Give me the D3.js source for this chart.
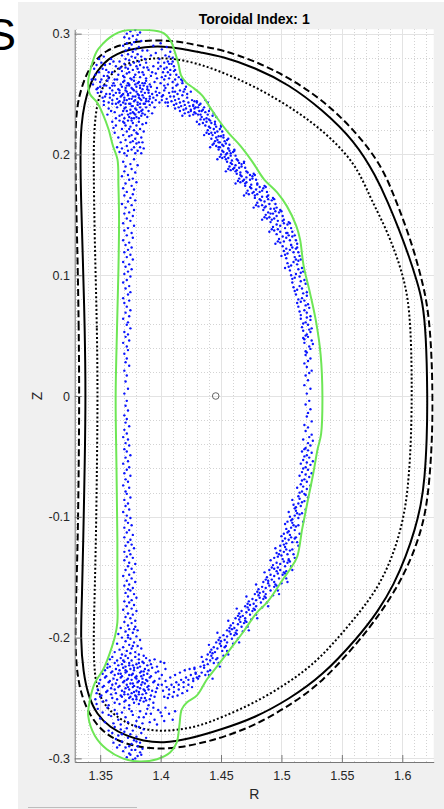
<!DOCTYPE html>
<html>
<head>
<meta charset="utf-8">
<script src="https://cdn.jsdelivr.net/npm/d3@7"></script>
<style>
  html, body { margin: 0; padding: 0; background: #ffffff; }
  svg { display: block; font-family: "Liberation Sans", Arial, Helvetica, sans-serif; }
</style>
</head>
<body>
<svg id="chart" width="444" height="809"></svg>
<script>
// ---------- tick labels ----------
const xTicks = [1.35, 1.4, 1.45, 1.5, 1.55, 1.6];
const yTicks = [-0.3, -0.2, -0.1, 0, 0.1, 0.2, 0.3];

// ---------- boundary curves [R, Z] ----------
// outer boundary (dashed)
const outerBoundary = [
  [1.3327,0.0000],[1.3323,0.0552],[1.3312,0.1190],[1.3300,0.1628],[1.3293,0.2017],[1.3296,0.2249],
  [1.3312,0.2415],[1.3341,0.2539],[1.3391,0.2680],[1.3465,0.2787],[1.3548,0.2858],[1.3664,0.2907],
  [1.3829,0.2940],[1.3995,0.2947],[1.4161,0.2934],[1.4326,0.2899],[1.4508,0.2866],[1.4784,0.2773],
  [1.5060,0.2636],[1.5336,0.2456],[1.5612,0.2194],[1.5833,0.1904],[1.5943,0.1628],[1.6023,0.1421],
  [1.6098,0.1198],[1.6156,0.0983],[1.6205,0.0776],[1.6238,0.0469],[1.6253,0.0000],[1.6247,-0.0358],
  [1.6226,-0.0690],[1.6197,-0.0938],[1.6147,-0.1145],[1.6065,-0.1368],[1.5949,-0.1600],[1.5800,-0.1824],
  [1.5640,-0.2031],[1.5336,-0.2373],[1.5060,-0.2566],[1.4784,-0.2726],[1.4508,-0.2828],[1.4353,-0.2869],
  [1.4161,-0.2911],[1.3968,-0.2925],[1.3774,-0.2897],[1.3608,-0.2842],[1.3471,-0.2732],[1.3374,-0.2566],
  [1.3319,-0.2373],[1.3300,-0.2180],[1.3293,-0.2014],[1.3300,-0.1683],[1.3315,-0.1186],[1.3323,-0.0524]
];
// boundary (solid)
const boundary = [
  [1.3380,0.0000],[1.3373,0.0552],[1.3355,0.1190],[1.3341,0.1628],[1.3335,0.2017],[1.3343,0.2249],
  [1.3370,0.2423],[1.3407,0.2555],[1.3453,0.2655],[1.3507,0.2729],[1.3565,0.2787],[1.3639,0.2833],
  [1.3730,0.2866],[1.3871,0.2891],[1.4020,0.2897],[1.4185,0.2874],[1.4326,0.2845],[1.4508,0.2812],
  [1.4781,0.2719],[1.5060,0.2580],[1.5336,0.2373],[1.5609,0.2108],[1.5783,0.1819],[1.5882,0.1603],
  [1.5973,0.1380],[1.6056,0.1156],[1.6122,0.0950],[1.6168,0.0784],[1.6197,0.0511],[1.6209,0.0000],
  [1.6204,-0.0358],[1.6185,-0.0690],[1.6156,-0.0897],[1.6106,-0.1103],[1.6031,-0.1327],[1.5932,-0.1559],
  [1.5800,-0.1782],[1.5634,-0.1998],[1.5336,-0.2320],[1.5060,-0.2511],[1.4784,-0.2662],[1.4508,-0.2759],
  [1.4227,-0.2842],[1.4020,-0.2875],[1.3854,-0.2856],[1.3719,-0.2815],[1.3581,-0.2745],[1.3471,-0.2635],
  [1.3401,-0.2483],[1.3360,-0.2290],[1.3337,-0.2014],[1.3349,-0.1683],[1.3360,-0.1186],[1.3373,-0.0524]
];
// inner boundary (dotted)
const innerBoundary = [
  [1.3479,0.0000],[1.3474,0.0552],[1.3457,0.1190],[1.3449,0.1628],[1.3445,0.2017],[1.3453,0.2249],
  [1.3474,0.2415],[1.3511,0.2539],[1.3565,0.2638],[1.3647,0.2717],[1.3747,0.2762],[1.3912,0.2796],
  [1.4045,0.2798],[1.4202,0.2779],[1.4368,0.2732],[1.4508,0.2682],[1.4784,0.2561],[1.5060,0.2401],
  [1.5336,0.2208],[1.5612,0.1932],[1.5733,0.1645],[1.5849,0.1421],[1.5940,0.1198],[1.6007,0.0991],
  [1.6048,0.0801],[1.6069,0.0552],[1.6077,0.0262],[1.6079,0.0000],[1.6073,-0.0358],[1.6056,-0.0648],
  [1.6031,-0.0897],[1.5982,-0.1128],[1.5907,-0.1360],[1.5791,-0.1600],[1.5634,-0.1807],[1.5460,-0.2014],
  [1.5281,-0.2207],[1.5060,-0.2373],[1.4784,-0.2538],[1.4508,-0.2660],[1.4326,-0.2730],[1.4161,-0.2763],
  [1.3995,-0.2776],[1.3830,-0.2755],[1.3689,-0.2693],[1.3581,-0.2610],[1.3507,-0.2511],[1.3465,-0.2387],
  [1.3449,-0.2221],[1.3445,-0.2014],[1.3453,-0.1683],[1.3465,-0.1186],[1.3474,-0.0524]
];
// particle envelope (green)
const envelope = [
  [1.3648,0.3008],[1.3730,0.3030],[1.3829,0.3033],[1.3945,0.3026],[1.4028,0.3003],[1.4086,0.2936],
  [1.4119,0.2845],[1.4148,0.2746],[1.4169,0.2655],[1.4210,0.2597],[1.4276,0.2547],[1.4343,0.2489],
  [1.4409,0.2390],[1.4475,0.2291],[1.4558,0.2183],[1.4657,0.2075],[1.4757,0.1943],[1.4856,0.1794],
  [1.4964,0.1686],[1.5046,0.1570],[1.5121,0.1413],[1.5154,0.1297],[1.5183,0.1082],[1.5237,0.0850],
  [1.5286,0.0618],[1.5324,0.0345],[1.5339,0.0000],[1.5328,-0.0315],[1.5299,-0.0441],[1.5262,-0.0648],
  [1.5212,-0.0896],[1.5171,-0.1104],[1.5129,-0.1335],[1.5071,-0.1434],[1.5013,-0.1517],[1.4881,-0.1709],
  [1.4798,-0.1791],[1.4682,-0.1956],[1.4575,-0.2097],[1.4467,-0.2238],[1.4384,-0.2345],[1.4301,-0.2478],
  [1.4219,-0.2536],[1.4175,-0.2594],[1.4155,-0.2732],[1.4133,-0.2869],[1.4078,-0.2952],[1.3970,-0.3007],
  [1.3829,-0.3026],[1.3691,-0.3002],[1.3554,-0.2925],[1.3457,-0.2815],[1.3401,-0.2649],[1.3416,-0.2511],
  [1.3457,-0.2373],[1.3526,-0.2262],[1.3581,-0.2124],[1.3623,-0.1987],[1.3642,-0.1876],[1.3642,-0.1600],
  [1.3642,-0.1186],[1.3635,-0.0607],[1.3628,0.0000],[1.3639,0.0552],[1.3651,0.1049],[1.3656,0.1463],
  [1.3651,0.1738],[1.3643,0.1959],[1.3606,0.2070],[1.3569,0.2208],[1.3523,0.2332],[1.3474,0.2431],
  [1.3416,0.2498],[1.3401,0.2605],[1.3424,0.2721],[1.3471,0.2853],[1.3526,0.2920],[1.3581,0.2969]
];
// magnetic axis
const magAxis = [[1.4456, 0.0]];

// ---------- particle positions [R, Z] ----------
const upperCloud = [
  // plume above the upper X-point
  [1.375,0.302],[1.379,0.303],[1.372,0.300],[1.381,0.299],[1.377,0.298],[1.383,0.301],[1.374,0.296],[1.370,0.297],
  [1.380,0.295],[1.378,0.293],[1.372,0.292],[1.376,0.291],[1.384,0.294],[1.369,0.290],[1.382,0.289],[1.374,0.288],
  [1.379,0.287],[1.371,0.286],[1.385,0.286],[1.377,0.285],[1.373,0.283],[1.381,0.283],[1.368,0.282],[1.376,0.281],
  [1.384,0.281],[1.379,0.280],[1.371,0.279],[1.374,0.278],[1.382,0.277],[1.387,0.279],[1.366,0.277],[1.378,0.276],
  [1.370,0.275],[1.375,0.274],[1.383,0.274],[1.388,0.276],[1.380,0.273],[1.367,0.272],[1.373,0.271],[1.386,0.272],
  // upper spread
  [1.347,0.274],[1.351,0.276],[1.355,0.270],[1.358,0.275],[1.360,0.268],[1.363,0.273],[1.365,0.266],[1.368,0.269],
  [1.370,0.264],[1.372,0.267],[1.375,0.263],[1.377,0.270],[1.379,0.266],[1.381,0.271],[1.383,0.264],[1.385,0.268],
  [1.388,0.263],[1.390,0.270],[1.392,0.265],[1.394,0.273],[1.396,0.267],[1.398,0.276],[1.401,0.264],[1.403,0.271],
  [1.406,0.268],[1.349,0.268],[1.353,0.265],[1.357,0.263],[1.362,0.262],[1.366,0.271],[1.371,0.272],[1.374,0.268],
  [1.378,0.264],[1.382,0.268],[1.386,0.266],[1.389,0.272],[1.393,0.268],[1.397,0.263],[1.400,0.273],[1.404,0.265],
  [1.407,0.275],[1.346,0.262],[1.352,0.271],[1.361,0.277],[1.369,0.265],
  [1.344,0.258],[1.346,0.266],[1.348,0.251],[1.349,0.279],[1.351,0.262],[1.352,0.247],[1.354,0.274],[1.355,0.257],
  [1.357,0.268],[1.358,0.250],[1.345,0.271],[1.350,0.256],[1.353,0.281],[1.356,0.265],[1.359,0.279],[1.347,0.254],
  [1.360,0.257],[1.343,0.262],
  [1.396,0.284],[1.399,0.279],[1.401,0.287],[1.404,0.282],[1.406,0.277],[1.408,0.285],[1.410,0.280],[1.398,0.271],
  [1.403,0.276],[1.407,0.281],[1.392,0.282],[1.389,0.286],[1.394,0.290],[1.400,0.292],[1.405,0.289],
  // dense core
  [1.350,0.260],[1.356,0.261],[1.361,0.259],[1.364,0.262],[1.367,0.258],[1.370,0.261],[1.373,0.259],[1.376,0.262],
  [1.379,0.258],[1.382,0.260],[1.385,0.259],[1.388,0.261],[1.391,0.258],[1.395,0.260],[1.400,0.259],
  [1.348,0.255],[1.353,0.257],[1.358,0.255],[1.362,0.257],[1.365,0.254],[1.368,0.256],[1.371,0.255],[1.374,0.257],
  [1.377,0.254],[1.380,0.256],[1.383,0.255],[1.386,0.257],[1.389,0.254],[1.392,0.256],[1.397,0.255],[1.403,0.257],
  [1.351,0.252],[1.355,0.250],[1.360,0.253],[1.363,0.251],[1.366,0.253],[1.369,0.250],[1.372,0.252],[1.375,0.251],
  [1.378,0.253],[1.381,0.250],[1.384,0.252],[1.387,0.251],[1.390,0.253],[1.393,0.250],[1.396,0.252],[1.399,0.251],
  [1.354,0.248],[1.358,0.247],[1.361,0.249],[1.364,0.246],[1.367,0.248],[1.370,0.247],[1.373,0.249],[1.376,0.246],
  [1.379,0.248],[1.382,0.247],[1.385,0.249],[1.388,0.246],[1.391,0.248],[1.394,0.247],[1.397,0.249],[1.401,0.248],
  [1.353,0.244],[1.357,0.243],[1.360,0.245],[1.363,0.242],[1.366,0.244],[1.369,0.243],[1.372,0.245],[1.375,0.242],
  [1.378,0.244],[1.381,0.243],[1.384,0.245],[1.387,0.242],[1.390,0.244],[1.393,0.243],[1.396,0.245],[1.399,0.243],
  [1.369,0.260],[1.374,0.258],[1.378,0.261],[1.383,0.257],[1.387,0.259],[1.371,0.253],[1.376,0.255],[1.380,0.252],
  [1.385,0.254],[1.390,0.251],[1.368,0.249],[1.373,0.250],[1.377,0.248],[1.382,0.249],[1.386,0.247],[1.391,0.246],
  [1.370,0.245],[1.374,0.246],[1.379,0.245],[1.383,0.246],[1.388,0.244],[1.372,0.257],[1.381,0.259],[1.389,0.256],
  [1.366,0.251],
  // bridge towards the outboard leg
  [1.402,0.249],[1.405,0.246],[1.407,0.251],[1.409,0.244],[1.411,0.248],[1.413,0.242],[1.415,0.246],[1.417,0.240],
  [1.419,0.244],[1.421,0.238],[1.423,0.243],[1.425,0.236],[1.427,0.241],[1.429,0.234],[1.431,0.239],[1.433,0.233],
  [1.404,0.243],[1.406,0.240],[1.410,0.252],[1.412,0.238],[1.414,0.250],[1.416,0.236],[1.418,0.249],[1.420,0.234],
  [1.422,0.247],[1.424,0.232],[1.426,0.245],[1.428,0.238],[1.430,0.243],[1.432,0.236],[1.403,0.253],[1.408,0.248],
  [1.412,0.245],[1.416,0.243],[1.420,0.241],[1.424,0.240],[1.428,0.244],[1.401,0.245],[1.406,0.243],[1.411,0.241],
  [1.415,0.239],[1.419,0.237],[1.423,0.235],[1.427,0.233],[1.418,0.232],
  // above the bridge
  [1.403,0.262],[1.406,0.258],[1.408,0.266],[1.410,0.255],[1.412,0.262],[1.412,0.270],[1.416,0.253],[1.418,0.259],
  [1.413,0.266],[1.405,0.272],[1.409,0.275],[1.411,0.269],[1.413,0.257],[1.415,0.264],[1.411,0.273],[1.419,0.252],
  [1.421,0.256],[1.418,0.261],[1.425,0.252],[1.404,0.255],[1.407,0.263],[1.410,0.260],[1.412,0.252],[1.414,0.258],
  [1.417,0.262],[1.420,0.254],[1.422,0.250],[1.408,0.270],[1.402,0.268],[1.410,0.277],
  // lower core
  [1.353,0.241],[1.357,0.238],[1.360,0.242],[1.362,0.235],[1.364,0.239],[1.366,0.232],[1.367,0.241],[1.369,0.236],
  [1.370,0.230],[1.371,0.239],[1.373,0.233],[1.374,0.242],[1.375,0.237],[1.376,0.230],[1.377,0.240],[1.378,0.234],
  [1.379,0.238],[1.380,0.231],[1.381,0.241],[1.382,0.235],[1.383,0.239],[1.384,0.232],[1.385,0.237],[1.386,0.242],
  [1.387,0.233],[1.388,0.239],[1.390,0.236],[1.391,0.241],[1.393,0.234],[1.395,0.239],[1.356,0.233],[1.359,0.236],
  [1.363,0.230],[1.365,0.243],[1.368,0.233],[1.372,0.236],[1.374,0.231],[1.377,0.235],[1.380,0.237],[1.382,0.230],
  [1.385,0.234],[1.389,0.231],[1.371,0.242],[1.376,0.240],[1.379,0.233],[1.383,0.242],[1.375,0.234],[1.370,0.238],
  [1.378,0.230],[1.384,0.236],
  // funnel into the inboard leg
  [1.360,0.227],[1.363,0.224],[1.366,0.228],[1.368,0.221],[1.370,0.226],[1.372,0.219],[1.373,0.228],[1.375,0.223],
  [1.376,0.216],[1.377,0.226],[1.378,0.220],[1.379,0.213],[1.380,0.224],[1.381,0.217],[1.382,0.227],[1.383,0.221],
  [1.384,0.214],[1.385,0.225],[1.386,0.219],[1.388,0.226],[1.362,0.218],[1.365,0.214],[1.367,0.210],[1.369,0.216],
  [1.371,0.212],[1.372,0.207],[1.374,0.215],[1.375,0.210],[1.376,0.204],[1.377,0.211],[1.378,0.206],[1.379,0.201],
  [1.380,0.209],[1.381,0.203],[1.382,0.210],[1.383,0.206],[1.384,0.201],[1.364,0.206],[1.366,0.202],[1.368,0.205],
  [1.370,0.201],[1.373,0.203],[1.374,0.221],[1.371,0.224],[1.376,0.228],[1.380,0.218],[1.385,0.210],[1.386,0.205],
  [1.361,0.222],[1.369,0.227]
];

const innerLeg = [
  [1.372,0.199],[1.378,0.196],[1.369,0.194],[1.375,0.192],[1.381,0.191],[1.371,0.190],
  [1.376,0.188],[1.370,0.186],[1.379,0.185],[1.373,0.183],[1.368,0.182],[1.377,0.180],
  [1.374,0.179],[1.380,0.177],[1.371,0.176],[1.376,0.174],[1.369,0.172],[1.378,0.171],
  [1.372,0.169],[1.377,0.167],[1.370,0.166],[1.375,0.164],[1.379,0.162],[1.373,0.161],
  [1.368,0.159],[1.376,0.158],[1.371,0.156],[1.378,0.154],[1.374,0.152],[1.370,0.151],
  [1.377,0.149],[1.372,0.147],[1.375,0.145],[1.369,0.143],[1.378,0.141],
  [1.373,0.139],[1.370,0.137],[1.376,0.135],[1.372,0.133],[1.377,0.131],
  [1.369,0.129],[1.374,0.127],[1.371,0.125],[1.376,0.123],[1.373,0.121],
  [1.370,0.119],[1.375,0.117],[1.372,0.115],[1.377,0.113],[1.369,0.111],
  [1.374,0.109],[1.371,0.107],[1.376,0.105],[1.373,0.103],[1.370,0.101],
  [1.375,0.099],[1.372,0.096],[1.369,0.094],[1.374,0.091],
  [1.371,0.089],[1.375,0.086],[1.373,0.084],[1.369,0.081],
  [1.374,0.079],[1.370,0.077],[1.372,0.074],[1.375,0.071],
  [1.371,0.069],[1.374,0.066],[1.369,0.064],[1.373,0.061],
  [1.372,0.059],[1.375,0.056],[1.370,0.053],[1.373,0.051],
  [1.371,0.049],[1.374,0.046],[1.369,0.044],[1.372,0.041],
  [1.373,0.038],[1.370,0.035],[1.372,0.031],
  [1.371,0.028],[1.374,0.025],[1.370,0.021],
  [1.372,0.017],[1.371,0.012],[1.373,0.006],[1.370,0.002],
  [1.372,-0.004],[1.371,-0.008],
  [1.373,-0.012],[1.370,-0.016],[1.372,-0.019],
  [1.371,-0.022],[1.374,-0.025],[1.370,-0.028],
  [1.372,-0.031],[1.369,-0.034],[1.373,-0.036],[1.371,-0.039],
  [1.374,-0.041],[1.370,-0.044],[1.372,-0.046],[1.375,-0.049],
  [1.371,-0.051],[1.373,-0.054],[1.369,-0.056],[1.374,-0.059],
  [1.372,-0.061],[1.370,-0.064],[1.375,-0.066],[1.371,-0.069],
  [1.373,-0.071],[1.369,-0.074],[1.374,-0.076],[1.371,-0.079],
  [1.372,-0.081],[1.375,-0.084],[1.370,-0.086],[1.373,-0.089],
  [1.371,-0.091],[1.374,-0.094],[1.369,-0.096],[1.372,-0.099],
  [1.375,-0.101],[1.371,-0.103],[1.373,-0.105],[1.376,-0.107],[1.370,-0.109],
  [1.374,-0.111],[1.372,-0.113],[1.377,-0.115],[1.370,-0.117],[1.375,-0.119],
  [1.373,-0.121],[1.376,-0.123],[1.371,-0.124],[1.378,-0.126],[1.374,-0.128],[1.370,-0.129],
  [1.375,-0.131],[1.372,-0.133],[1.377,-0.134],[1.370,-0.136],[1.374,-0.138],[1.379,-0.139],
  [1.373,-0.141],[1.376,-0.143],[1.371,-0.144],[1.378,-0.146],[1.374,-0.148],[1.369,-0.149],
  [1.376,-0.151],[1.372,-0.153],[1.379,-0.154],[1.374,-0.156],[1.370,-0.157],[1.377,-0.159],[1.373,-0.160],
  [1.375,-0.161],[1.371,-0.163],[1.378,-0.164],[1.373,-0.166],[1.380,-0.167],[1.376,-0.169],[1.370,-0.170],
  [1.374,-0.171],[1.378,-0.173],[1.372,-0.174],[1.376,-0.176],[1.369,-0.177],[1.380,-0.178],[1.373,-0.180],
  [1.377,-0.181],[1.371,-0.183],[1.375,-0.184],[1.379,-0.186]
];

const outerLeg = [
  [1.427,0.240],[1.434,0.236],[1.439,0.243],[1.430,0.244],[1.436,0.239],[1.425,0.237],[1.441,0.238],
  [1.432,0.241],[1.428,0.235],[1.437,0.245],[1.433,0.242],[1.440,0.236],[1.429,0.239],[1.435,0.237],
  [1.431,0.233],[1.438,0.230],[1.444,0.234],[1.435,0.226],[1.441,0.228],[1.433,0.229],[1.446,0.231],
  [1.437,0.235],[1.430,0.227],[1.442,0.226],[1.439,0.233],[1.434,0.231],[1.445,0.227],[1.436,0.229],
  [1.443,0.232],[1.432,0.225],[1.440,0.229],[1.438,0.227],
  [1.437,0.224],[1.444,0.221],[1.450,0.223],[1.440,0.217],[1.447,0.219],[1.452,0.216],[1.439,0.220],
  [1.445,0.225],[1.442,0.218],[1.449,0.221],[1.436,0.216],[1.446,0.223],[1.451,0.219],[1.441,0.222],
  [1.448,0.215],[1.438,0.218],[1.443,0.216],[1.450,0.224],[1.445,0.218],[1.440,0.223],
  [1.442,0.213],[1.449,0.210],[1.455,0.212],[1.446,0.207],[1.452,0.214],[1.444,0.209],[1.457,0.208],
  [1.448,0.206],[1.453,0.211],[1.441,0.206],[1.450,0.215],[1.456,0.205],[1.445,0.211],[1.451,0.208],
  [1.447,0.212],[1.454,0.209],[1.443,0.208],[1.449,0.206],[1.456,0.213],[1.446,0.214],[1.452,0.207],
  [1.448,0.210],
  [1.448,0.204],[1.455,0.201],[1.461,0.203],[1.451,0.197],[1.458,0.199],[1.463,0.196],[1.450,0.200],
  [1.456,0.205],[1.453,0.198],[1.460,0.202],[1.447,0.196],[1.457,0.203],[1.462,0.199],[1.452,0.202],
  [1.459,0.195],[1.449,0.198],[1.454,0.196],[1.461,0.204],[1.456,0.197],[1.451,0.203],[1.458,0.201],
  [1.454,0.200],
  [1.455,0.194],[1.462,0.191],[1.469,0.193],[1.458,0.187],[1.465,0.189],[1.471,0.186],[1.457,0.190],
  [1.464,0.195],[1.460,0.188],[1.467,0.192],[1.454,0.186],[1.465,0.193],[1.470,0.189],[1.459,0.192],
  [1.466,0.185],[1.456,0.188],[1.462,0.186],[1.469,0.194],[1.463,0.187],[1.458,0.193],[1.467,0.190],
  [1.461,0.189],
  [1.463,0.184],[1.471,0.181],[1.478,0.183],[1.466,0.177],[1.474,0.179],[1.480,0.176],[1.465,0.180],
  [1.472,0.185],[1.468,0.178],[1.476,0.182],[1.462,0.176],[1.474,0.183],[1.479,0.179],[1.467,0.182],
  [1.475,0.175],[1.464,0.178],[1.470,0.176],[1.477,0.184],[1.471,0.177],[1.466,0.183],[1.476,0.180],
  [1.469,0.179],
  [1.470,0.174],[1.479,0.171],[1.487,0.173],[1.473,0.167],[1.482,0.169],[1.489,0.166],[1.472,0.170],
  [1.480,0.175],[1.476,0.168],[1.485,0.172],[1.469,0.166],[1.482,0.173],[1.488,0.169],[1.475,0.172],
  [1.484,0.165],[1.471,0.168],[1.478,0.166],[1.486,0.174],[1.480,0.167],[1.474,0.173],[1.484,0.170],
  [1.477,0.169],
  [1.478,0.164],[1.486,0.161],[1.494,0.163],[1.481,0.157],[1.490,0.159],[1.496,0.156],[1.480,0.160],
  [1.488,0.165],[1.484,0.158],[1.492,0.162],[1.477,0.156],[1.489,0.163],[1.495,0.159],[1.483,0.162],
  [1.491,0.155],[1.479,0.158],[1.486,0.156],[1.493,0.164],[1.487,0.157],[1.482,0.163],
  [1.485,0.154],[1.493,0.151],[1.500,0.153],[1.488,0.147],[1.496,0.149],[1.502,0.146],[1.487,0.150],
  [1.494,0.155],[1.490,0.148],[1.498,0.152],[1.484,0.146],[1.495,0.153],[1.501,0.149],[1.489,0.152],
  [1.497,0.145],[1.486,0.148],[1.492,0.146],[1.499,0.154],[1.494,0.147],[1.491,0.151],
  [1.491,0.144],[1.499,0.141],[1.507,0.143],[1.494,0.137],[1.503,0.139],[1.509,0.136],[1.493,0.140],
  [1.501,0.145],[1.497,0.138],[1.505,0.142],[1.490,0.136],[1.502,0.143],[1.508,0.139],[1.496,0.142],
  [1.504,0.135],[1.492,0.138],[1.499,0.136],[1.506,0.144],
  [1.496,0.134],[1.504,0.131],[1.511,0.133],[1.499,0.127],[1.507,0.129],[1.513,0.126],[1.498,0.130],
  [1.505,0.135],[1.502,0.128],[1.509,0.132],[1.495,0.126],[1.506,0.133],[1.512,0.129],[1.501,0.132],
  [1.508,0.125],[1.497,0.128],
  [1.501,0.124],[1.507,0.121],[1.513,0.123],[1.503,0.117],[1.510,0.119],[1.515,0.116],[1.502,0.120],
  [1.508,0.125],[1.505,0.118],[1.512,0.122],[1.500,0.116],[1.509,0.123],[1.514,0.119],[1.504,0.122],
  [1.504,0.114],[1.510,0.111],[1.516,0.113],[1.506,0.107],[1.513,0.109],[1.517,0.106],[1.505,0.110],
  [1.511,0.115],[1.508,0.108],[1.514,0.112],[1.503,0.106],[1.512,0.113],
  [1.507,0.104],[1.512,0.101],[1.518,0.103],[1.509,0.097],[1.515,0.099],[1.519,0.096],[1.508,0.100],
  [1.514,0.105],[1.511,0.098],[1.516,0.102],
  [1.509,0.094],[1.515,0.091],[1.520,0.093],[1.511,0.087],[1.517,0.089],[1.521,0.086],[1.510,0.090],
  [1.516,0.095],[1.513,0.088],
  [1.512,0.084],[1.517,0.081],[1.521,0.083],[1.513,0.077],[1.519,0.079],[1.522,0.076],[1.514,0.080],
  [1.518,0.085],[1.516,0.078],
  [1.514,0.074],[1.519,0.071],[1.523,0.073],[1.516,0.067],[1.521,0.069],[1.524,0.066],[1.515,0.070],
  [1.520,0.075],
  [1.516,0.064],[1.520,0.061],[1.524,0.063],[1.517,0.057],[1.522,0.059],[1.525,0.056],[1.518,0.060],
  [1.521,0.065],
  [1.518,0.054],[1.521,0.051],[1.524,0.053],[1.519,0.047],[1.522,0.049],[1.525,0.046],[1.520,0.050],
  [1.523,0.055],[1.518,0.048],
  [1.519,0.044],[1.523,0.041],[1.526,0.043],[1.520,0.037],[1.524,0.039],[1.521,0.036],
  [1.520,0.034],[1.524,0.031],[1.519,0.027],[1.522,0.029],
  [1.521,0.024],[1.525,0.021],[1.520,0.017],[1.523,0.019],
  [1.522,0.013],[1.519,0.009],[1.524,0.006],
  [1.521,0.002],[1.523,-0.004],
  [1.520,-0.007],[1.524,-0.011],[1.522,-0.014],
  [1.521,-0.017],[1.525,-0.021],[1.519,-0.024],
  [1.522,-0.026],[1.520,-0.029],[1.525,-0.032],[1.523,-0.034],
  [1.518,-0.036],[1.522,-0.039],[1.526,-0.037],[1.520,-0.043],[1.524,-0.041],[1.519,-0.044],
  [1.517,-0.046],[1.521,-0.049],[1.525,-0.047],[1.518,-0.053],[1.523,-0.051],[1.526,-0.054],[1.519,-0.050],
  [1.522,-0.045],
  [1.516,-0.056],[1.520,-0.059],[1.524,-0.057],[1.517,-0.063],[1.522,-0.061],[1.525,-0.064],[1.518,-0.060],
  [1.521,-0.055],
  [1.515,-0.066],[1.519,-0.069],[1.523,-0.067],[1.516,-0.073],[1.521,-0.071],[1.524,-0.074],[1.517,-0.070],
  [1.520,-0.065],
  [1.513,-0.076],[1.517,-0.079],[1.521,-0.077],[1.514,-0.083],[1.519,-0.081],[1.522,-0.084],[1.515,-0.080],
  [1.518,-0.075],[1.520,-0.082],
  [1.509,-0.086],[1.514,-0.089],[1.519,-0.087],[1.511,-0.093],[1.516,-0.091],[1.520,-0.094],[1.510,-0.090],
  [1.515,-0.085],[1.512,-0.092],[1.517,-0.088],
  [1.506,-0.096],[1.511,-0.099],[1.517,-0.097],[1.508,-0.103],[1.514,-0.101],[1.518,-0.104],[1.507,-0.100],
  [1.512,-0.095],[1.509,-0.102],[1.515,-0.098],[1.505,-0.104],[1.513,-0.097],
  [1.503,-0.106],[1.508,-0.109],[1.514,-0.107],[1.505,-0.113],[1.511,-0.111],[1.515,-0.114],[1.504,-0.110],
  [1.509,-0.105],[1.506,-0.112],[1.512,-0.108],[1.502,-0.114],[1.510,-0.107],
  [1.500,-0.116],[1.506,-0.119],[1.512,-0.117],[1.502,-0.123],[1.509,-0.121],[1.514,-0.124],[1.501,-0.120],
  [1.507,-0.115],[1.504,-0.122],[1.511,-0.118],[1.499,-0.124],[1.508,-0.117],[1.513,-0.121],[1.503,-0.118],
  [1.495,-0.126],[1.502,-0.129],[1.509,-0.127],[1.497,-0.133],[1.505,-0.131],[1.511,-0.134],[1.496,-0.130],
  [1.503,-0.125],[1.500,-0.132],[1.507,-0.128],[1.494,-0.134],[1.504,-0.127],[1.510,-0.131],[1.499,-0.128],
  [1.506,-0.135],[1.498,-0.131],
  [1.491,-0.136],[1.499,-0.139],[1.507,-0.137],[1.494,-0.143],[1.503,-0.141],[1.509,-0.144],[1.493,-0.140],
  [1.501,-0.135],[1.497,-0.142],[1.505,-0.138],[1.490,-0.144],[1.502,-0.137],[1.508,-0.141],[1.496,-0.138],
  [1.504,-0.145],[1.492,-0.142],[1.499,-0.144],[1.506,-0.136],
  [1.486,-0.146],[1.494,-0.149],[1.503,-0.147],[1.489,-0.153],[1.498,-0.151],[1.505,-0.154],[1.488,-0.150],
  [1.496,-0.145],[1.492,-0.152],[1.501,-0.148],[1.485,-0.154],[1.497,-0.147],[1.504,-0.151],[1.491,-0.148],
  [1.500,-0.155],[1.487,-0.152],[1.494,-0.154],[1.502,-0.146],
  [1.479,-0.156],[1.487,-0.159],[1.496,-0.157],[1.482,-0.163],[1.491,-0.161],[1.498,-0.164],[1.481,-0.160],
  [1.489,-0.155],[1.485,-0.162],[1.494,-0.158],[1.478,-0.164],[1.490,-0.157],[1.497,-0.161],[1.484,-0.158],
  [1.493,-0.165],[1.480,-0.162],[1.487,-0.164],[1.495,-0.156],
  [1.471,-0.166],[1.479,-0.169],[1.487,-0.167],[1.474,-0.173],[1.483,-0.171],[1.489,-0.174],[1.473,-0.170],
  [1.481,-0.165],[1.477,-0.172],[1.485,-0.168],[1.470,-0.174],[1.482,-0.167],[1.488,-0.171],[1.476,-0.168],
  [1.484,-0.175],[1.472,-0.172],[1.479,-0.174],[1.486,-0.166],
  [1.463,-0.176],[1.471,-0.179],[1.478,-0.177],[1.466,-0.183],[1.474,-0.181],[1.480,-0.184],[1.465,-0.180],
  [1.472,-0.175],[1.468,-0.182],[1.476,-0.178],[1.462,-0.184],[1.473,-0.177],[1.479,-0.181],[1.467,-0.178],
  [1.475,-0.185],[1.464,-0.182],[1.470,-0.184],[1.477,-0.176],
  [1.456,-0.186],[1.464,-0.189],[1.471,-0.187],[1.459,-0.193],[1.467,-0.191],[1.473,-0.194],[1.458,-0.190],
  [1.465,-0.185],[1.461,-0.192],[1.469,-0.188],[1.455,-0.194],[1.466,-0.187],[1.472,-0.191],[1.460,-0.188],
  [1.468,-0.195],[1.457,-0.192],[1.463,-0.194],[1.470,-0.186],
  [1.447,-0.196],[1.455,-0.199],[1.463,-0.197],[1.450,-0.203],[1.459,-0.201],[1.465,-0.204],[1.449,-0.200],
  [1.457,-0.195],[1.453,-0.202],[1.461,-0.198],[1.446,-0.204],[1.458,-0.197],[1.464,-0.201],[1.452,-0.198],
  [1.460,-0.205],[1.448,-0.202],[1.455,-0.204],[1.462,-0.196],
  [1.440,-0.206],[1.447,-0.209],[1.454,-0.207],[1.443,-0.213],[1.451,-0.211],[1.456,-0.214],[1.442,-0.210],
  [1.449,-0.205],[1.445,-0.212],[1.453,-0.208],[1.439,-0.214],[1.450,-0.207],[1.455,-0.211],[1.444,-0.208],
  [1.452,-0.215],[1.441,-0.212],
  [1.434,-0.216],[1.441,-0.219],[1.447,-0.217],[1.436,-0.223],[1.444,-0.221],[1.449,-0.224],[1.435,-0.220],
  [1.442,-0.215],[1.439,-0.222],[1.446,-0.218],[1.433,-0.224],[1.443,-0.217],[1.448,-0.221],[1.438,-0.218],
  [1.428,-0.226],[1.434,-0.229],[1.441,-0.227],[1.430,-0.233],[1.437,-0.231],[1.443,-0.234],[1.429,-0.230],
  [1.436,-0.225],[1.432,-0.232],[1.439,-0.228],[1.427,-0.234],[1.440,-0.231]
];

const lowerCloud = [
  // widening inboard leg
  [1.370,-0.187],[1.376,-0.188],[1.373,-0.190],[1.379,-0.191],[1.367,-0.192],[1.374,-0.193],[1.381,-0.194],
  [1.371,-0.195],[1.377,-0.196],[1.365,-0.197],[1.373,-0.198],[1.380,-0.199],[1.368,-0.200],[1.375,-0.201],
  [1.383,-0.202],[1.371,-0.203],[1.378,-0.204],[1.364,-0.205],[1.374,-0.206],[1.381,-0.207],[1.369,-0.208],
  [1.376,-0.209],[1.384,-0.209],[1.366,-0.210],[1.372,-0.211],[1.379,-0.212],[1.362,-0.212],[1.375,-0.213],
  [1.382,-0.214],[1.368,-0.214],[1.386,-0.215],[1.371,-0.215],[1.377,-0.207],[1.373,-0.200],[1.378,-0.193],
  // dense core below the lower X-point
  [1.358,-0.218],[1.360,-0.216],[1.364,-0.219],[1.367,-0.217],[1.370,-0.220],[1.373,-0.217],[1.376,-0.219],
  [1.379,-0.216],[1.382,-0.218],[1.385,-0.220],[1.388,-0.217],[1.391,-0.219],[1.395,-0.218],[1.400,-0.220],
  [1.356,-0.222],[1.358,-0.224],[1.362,-0.221],[1.365,-0.223],[1.368,-0.222],[1.371,-0.224],[1.374,-0.221],
  [1.377,-0.223],[1.380,-0.222],[1.383,-0.224],[1.386,-0.221],[1.389,-0.223],[1.392,-0.222],[1.397,-0.224],
  [1.403,-0.221],
  [1.354,-0.227],[1.356,-0.225],[1.360,-0.228],[1.363,-0.226],[1.366,-0.227],[1.369,-0.225],[1.372,-0.228],
  [1.375,-0.226],[1.378,-0.227],[1.381,-0.225],[1.384,-0.228],[1.387,-0.226],[1.390,-0.227],[1.393,-0.225],
  [1.398,-0.228],[1.404,-0.226],
  [1.352,-0.230],[1.355,-0.232],[1.359,-0.229],[1.362,-0.231],[1.365,-0.230],[1.368,-0.232],[1.371,-0.229],
  [1.374,-0.231],[1.377,-0.230],[1.380,-0.232],[1.383,-0.229],[1.386,-0.231],[1.389,-0.230],[1.392,-0.232],
  [1.396,-0.229],[1.401,-0.231],
  [1.350,-0.235],[1.354,-0.233],[1.358,-0.236],[1.361,-0.234],[1.364,-0.235],[1.367,-0.233],[1.370,-0.236],
  [1.373,-0.234],[1.376,-0.235],[1.379,-0.233],[1.382,-0.236],[1.385,-0.234],[1.388,-0.235],[1.391,-0.233],
  [1.395,-0.236],[1.399,-0.234],
  [1.349,-0.238],[1.353,-0.240],[1.357,-0.237],[1.360,-0.239],[1.363,-0.238],[1.366,-0.240],[1.369,-0.237],
  [1.372,-0.239],[1.375,-0.238],[1.378,-0.240],[1.381,-0.237],[1.384,-0.239],[1.387,-0.238],[1.390,-0.240],
  [1.394,-0.237],[1.398,-0.239],
  [1.348,-0.243],[1.352,-0.241],[1.356,-0.244],[1.359,-0.242],[1.362,-0.243],[1.365,-0.241],[1.368,-0.244],
  [1.371,-0.242],[1.374,-0.243],[1.377,-0.241],[1.380,-0.244],[1.383,-0.242],[1.386,-0.243],[1.389,-0.241],
  [1.393,-0.244],[1.397,-0.242],
  [1.347,-0.246],[1.351,-0.248],[1.355,-0.245],[1.359,-0.247],[1.363,-0.246],[1.367,-0.248],[1.370,-0.245],
  [1.373,-0.247],[1.376,-0.246],[1.379,-0.248],[1.382,-0.245],[1.385,-0.247],[1.388,-0.246],[1.392,-0.248],
  [1.396,-0.245],
  [1.346,-0.251],[1.350,-0.249],[1.355,-0.252],[1.360,-0.250],[1.364,-0.251],[1.368,-0.249],[1.371,-0.252],
  [1.374,-0.250],[1.377,-0.251],[1.380,-0.249],[1.383,-0.252],[1.387,-0.250],[1.391,-0.251],[1.395,-0.249],
  [1.347,-0.255],[1.352,-0.253],[1.357,-0.256],[1.362,-0.254],[1.366,-0.255],[1.370,-0.253],[1.374,-0.256],
  [1.378,-0.254],[1.382,-0.255],[1.386,-0.253],[1.390,-0.256],[1.394,-0.254],
  [1.369,-0.219],[1.374,-0.223],[1.378,-0.225],[1.382,-0.221],[1.386,-0.228],[1.371,-0.227],[1.376,-0.231],
  [1.380,-0.234],[1.384,-0.232],[1.389,-0.236],[1.372,-0.235],[1.377,-0.238],[1.381,-0.241],[1.385,-0.237],
  [1.390,-0.243],[1.373,-0.241],[1.378,-0.245],[1.382,-0.247],[1.387,-0.244],[1.375,-0.249],[1.380,-0.251],
  [1.384,-0.250],[1.388,-0.252],[1.370,-0.247],[1.367,-0.230],
  // bridge towards the outboard leg
  [1.402,-0.244],[1.405,-0.241],[1.407,-0.247],[1.409,-0.239],[1.411,-0.245],[1.413,-0.237],[1.415,-0.243],
  [1.417,-0.235],[1.419,-0.241],[1.421,-0.233],[1.423,-0.239],[1.425,-0.231],[1.427,-0.236],[1.429,-0.229],
  [1.431,-0.234],[1.404,-0.236],[1.406,-0.250],[1.408,-0.233],[1.410,-0.249],[1.412,-0.231],[1.414,-0.248],
  [1.416,-0.229],[1.418,-0.246],[1.420,-0.227],[1.422,-0.244],[1.424,-0.226],[1.426,-0.241],[1.428,-0.225],
  [1.401,-0.239],[1.403,-0.249],[1.407,-0.243],[1.411,-0.241],[1.415,-0.239],[1.419,-0.237],[1.423,-0.235],
  // below the core
  [1.348,-0.259],[1.352,-0.262],[1.356,-0.258],[1.359,-0.265],[1.362,-0.260],[1.365,-0.268],[1.368,-0.262],
  [1.371,-0.266],[1.374,-0.259],[1.377,-0.264],[1.380,-0.269],[1.383,-0.261],[1.386,-0.266],[1.389,-0.259],
  [1.392,-0.263],[1.395,-0.268],[1.398,-0.260],[1.401,-0.265],[1.404,-0.258],[1.407,-0.263],[1.410,-0.268],
  [1.350,-0.267],[1.354,-0.270],[1.357,-0.264],[1.361,-0.271],[1.364,-0.263],[1.367,-0.272],[1.370,-0.258],
  [1.373,-0.270],[1.376,-0.261],[1.379,-0.273],[1.382,-0.266],[1.385,-0.271],[1.388,-0.263],[1.391,-0.270],
  [1.394,-0.258],[1.397,-0.272],[1.400,-0.262],[1.403,-0.269],[1.412,-0.261],
  // plume below the lower X-point
  [1.362,-0.274],[1.367,-0.276],[1.372,-0.275],[1.377,-0.277],[1.382,-0.274],[1.386,-0.276],[1.360,-0.279],
  [1.365,-0.281],[1.370,-0.278],[1.375,-0.280],[1.380,-0.282],[1.384,-0.279],[1.363,-0.284],[1.368,-0.286],
  [1.373,-0.283],[1.378,-0.285],[1.383,-0.287],[1.366,-0.289],[1.371,-0.291],[1.376,-0.288],[1.381,-0.290],
  [1.385,-0.292],[1.369,-0.294],[1.374,-0.296],[1.379,-0.293],[1.383,-0.295],[1.372,-0.299],[1.377,-0.301],
  [1.381,-0.298],[1.375,-0.297],[1.379,-0.300],[1.357,-0.277],[1.361,-0.287],[1.388,-0.283],[1.374,-0.290],
  [1.368,-0.280],[1.380,-0.286],[1.376,-0.293],[1.364,-0.291],[1.384,-0.297]
];

// ---------- layout ----------
const svg = d3.select("#chart");
const plot = { left: 74.7, right: 433.7, top: 29.3, bottom: 762 };

const x = d3.scaleLinear().domain([1.3289, 1.6260]).range([plot.left, plot.right]);
const y = d3.scaleLinear().domain([-0.3030, 0.3036]).range([plot.bottom, plot.top]);

// figure background
svg.append("rect").attr("x", 0).attr("y", 0).attr("width", 444).attr("height", 809).attr("fill", "#ffffff");
svg.append("rect").attr("x", 18).attr("y", 2).attr("width", 426).attr("height", 807).attr("fill", "#f0f0f0");
svg.append("line").attr("x1", 28).attr("x2", 137).attr("y1", 807.5).attr("y2", 807.5)
  .attr("stroke", "#bdbdbd").attr("stroke-width", 1);

// heading fragment at the far left
svg.append("text").attr("x", 16).attr("y", 50).attr("text-anchor", "end")
  .attr("font-size", 45).attr("fill", "#000").text("S");

// axes background
svg.append("rect").attr("x", plot.left).attr("y", plot.top)
  .attr("width", plot.right - plot.left).attr("height", plot.bottom - plot.top).attr("fill", "#ffffff");

svg.append("clipPath").attr("id", "clip").append("rect")
  .attr("x", plot.left).attr("y", plot.top)
  .attr("width", plot.right - plot.left).attr("height", plot.bottom - plot.top);

// ---------- grid ----------
const xMinor = d3.range(133, 163).filter(v => v % 5 !== 0).map(v => v / 100);
const yMinor = d3.range(-15, 16).filter(v => v % 5 !== 0).map(v => v / 50);

const grid = svg.append("g").attr("shape-rendering", "crispEdges");
grid.selectAll(".xminor").data(xMinor).join("line")
  .attr("x1", d => Math.round(x(d)) + 0.5).attr("x2", d => Math.round(x(d)) + 0.5)
  .attr("y1", plot.top).attr("y2", plot.bottom)
  .attr("stroke", "#d3d3d3").attr("stroke-width", 1).attr("stroke-dasharray", "1,2");
grid.selectAll(".yminor").data(yMinor).join("line")
  .attr("y1", d => Math.round(y(d)) + 0.5).attr("y2", d => Math.round(y(d)) + 0.5)
  .attr("x1", plot.left).attr("x2", plot.right)
  .attr("stroke", "#d3d3d3").attr("stroke-width", 1).attr("stroke-dasharray", "1,2");
grid.selectAll(".xmajor").data(xTicks).join("line")
  .attr("x1", d => Math.round(x(d)) + 0.5).attr("x2", d => Math.round(x(d)) + 0.5)
  .attr("y1", plot.top).attr("y2", plot.bottom)
  .attr("stroke", "#e3e3e3").attr("stroke-width", 1);
grid.selectAll(".ymajor").data(yTicks).join("line")
  .attr("y1", d => Math.round(y(d)) + 0.5).attr("y2", d => Math.round(y(d)) + 0.5)
  .attr("x1", plot.left).attr("x2", plot.right)
  .attr("stroke", "#e3e3e3").attr("stroke-width", 1);

// ---------- curves ----------
const content = svg.append("g").attr("clip-path", "url(#clip)");
const smoothLine = d3.line()
  .x(d => x(d[0])).y(d => y(d[1]))
  .curve(d3.curveBasisClosed);
const envelopeLine = d3.line()
  .x(d => x(d[0])).y(d => y(d[1]))
  .curve(d3.curveCatmullRomClosed.alpha(0.5));

content.append("path").datum(outerBoundary).attr("d", smoothLine)
  .attr("fill", "none").attr("stroke", "#000").attr("stroke-width", 2)
  .attr("stroke-dasharray", "7,3.5");
content.append("path").datum(boundary).attr("d", smoothLine)
  .attr("fill", "none").attr("stroke", "#000").attr("stroke-width", 2);
content.append("path").datum(innerBoundary).attr("d", smoothLine)
  .attr("fill", "none").attr("stroke", "#000").attr("stroke-width", 2)
  .attr("stroke-dasharray", "2,2.2");

// ---------- particles ----------
const particles = [].concat(upperCloud, innerLeg, outerLeg, lowerCloud);
content.append("g").selectAll("circle").data(particles).join("circle")
  .attr("cx", d => x(d[0])).attr("cy", d => y(d[1])).attr("r", 1.2)
  .attr("fill", "#0a14ff");

// envelope on top
content.append("path").datum(envelope).attr("d", envelopeLine)
  .attr("fill", "none").attr("stroke", "#6ee656").attr("stroke-width", 2);

// magnetic axis marker
content.selectAll(".axis-marker").data(magAxis).join("circle")
  .attr("cx", d => x(d[0])).attr("cy", d => y(d[1])).attr("r", 3.3)
  .attr("fill", "none").attr("stroke", "#555").attr("stroke-width", 0.9);

// ---------- axes ----------
const fmt = d => String(+d.toFixed(2));
const yAxis = d3.axisLeft(y).tickValues(yTicks).tickFormat(fmt)
  .tickSize(-7).tickSizeOuter(0).tickPadding(4.7);
const xAxis = d3.axisBottom(x).tickValues(xTicks).tickFormat(fmt)
  .tickSize(-7).tickSizeOuter(0).tickPadding(9.5);

const gy = svg.append("g").attr("transform", `translate(${plot.left},0)`).call(yAxis);
const gx = svg.append("g").attr("transform", `translate(0,${plot.bottom})`).call(xAxis);
[gx, gy].forEach(g => {
  g.select(".domain").attr("stroke", "#777").attr("stroke-width", 1);
  g.selectAll(".tick line").attr("stroke", "#777").attr("stroke-width", 1);
  g.selectAll(".tick text").attr("fill", "#262626").attr("font-size", 12.5)
    .attr("font-family", "'Liberation Sans', Arial, Helvetica, sans-serif");
});

// ---------- labels ----------
svg.append("text").attr("x", (plot.left + plot.right) / 2).attr("y", 24)
  .attr("text-anchor", "middle").attr("font-weight", "bold").attr("font-size", 14)
  .attr("fill", "#000").text("Toroidal Index: 1");
svg.append("text").attr("x", (plot.left + plot.right) / 2).attr("y", 799)
  .attr("text-anchor", "middle").attr("font-size", 14).attr("fill", "#262626").text("R");
svg.append("text").attr("transform", "translate(41.5,396) rotate(-90)")
  .attr("text-anchor", "middle").attr("font-size", 14).attr("fill", "#262626").text("Z");
</script>
</body>
</html>
